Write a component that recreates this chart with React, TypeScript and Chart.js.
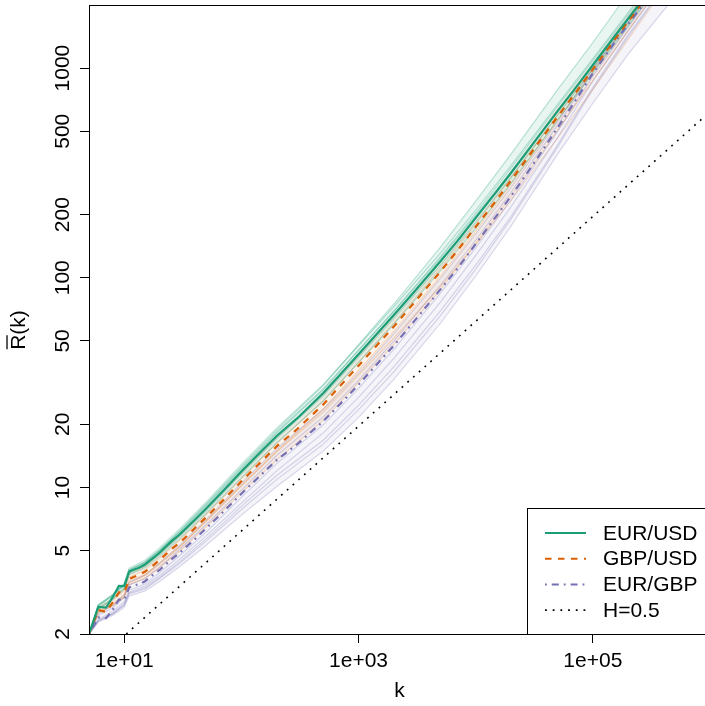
import React, { useEffect, useRef } from 'react';
import { Chart, registerables } from 'chart.js';

Chart.register(...registerables);

// ---------- data ----------
const K = [5, 6, 7, 8, 9, 10, 11, 12, 13, 14, 15, 16, 18, 20, 25, 30, 40, 50, 70, 100, 150, 200, 300, 500, 700, 1000, 1500, 2000, 3000, 5000, 7000, 10000, 15000, 20000, 30000, 50000, 70000, 100000, 150000, 200000, 300000, 500000];
const EUR_USD = [2.00, 2.69, 2.67, 3.01, 3.39, 3.38, 3.96, 4.05, 4.12, 4.20, 4.29, 4.42, 4.65, 4.88, 5.50, 6.00, 7.01, 7.94, 9.64, 11.9, 15.0, 17.6, 21.4, 28.2, 34.7, 43.2, 55.6, 66.4, 86.1, 120, 150, 193, 257, 316, 427, 624, 794, 1035, 1396, 1722, 2317, 3388];
const GBP_USD = [2.00, 2.60, 2.55, 2.84, 3.16, 3.15, 3.66, 3.74, 3.80, 3.88, 3.96, 4.08, 4.29, 4.50, 5.05, 5.47, 6.39, 7.21, 8.70, 10.7, 13.4, 15.7, 19.0, 24.9, 30.6, 38.1, 49.0, 58.5, 76.4, 107, 135, 175, 234, 291, 397, 587, 753, 988, 1346, 1672, 2264, 3327];
const EUR_GBP = [2.00, 2.40, 2.38, 2.62, 2.92, 2.91, 3.33, 3.41, 3.44, 3.49, 3.57, 3.68, 3.87, 4.04, 4.52, 4.90, 5.67, 6.38, 7.65, 9.34, 11.6, 13.5, 16.1, 20.7, 25.1, 30.9, 39.8, 47.5, 62.3, 88.0, 111, 145, 197, 245, 339, 519, 692, 944, 1302, 1619, 2187, 3222];

// thin individual curves around each main curve (first = upper edge, second = lower edge of the band)
const K_FAINT = [5, 6, 8, 10, 11, 15, 20, 30, 50, 100, 200, 500, 1000, 2000, 5000, 10000, 20000, 50000, 100000, 200000, 500000];
const EUR_USD_FAINT = [
  [2.00, 2.75, 3.08, 3.46, 4.05, 4.42, 5.03, 6.24, 8.34, 12.6, 18.8, 30.7, 48.0, 75.0, 140, 232, 389, 790, 1325, 2273, 4400],
  [2.00, 2.62, 2.92, 3.27, 3.83, 4.13, 4.68, 5.72, 7.50, 11.1, 16.3, 25.9, 39.4, 60.0, 108, 172, 282, 565, 945, 1590, 3160],
  [2.00, 2.72, 3.05, 3.42, 4.02, 4.36, 4.97, 6.13, 8.14, 12.2, 18.1, 29.2, 45.0, 69.5, 126, 203, 333, 656, 1085, 1800, 3530],
  [2.00, 2.66, 2.96, 3.32, 3.90, 4.22, 4.79, 5.87, 7.74, 11.6, 17.1, 27.4, 41.8, 64.0, 115, 184, 301, 596, 992, 1660, 3280],
  [2.00, 2.73, 3.06, 3.44, 4.04, 4.40, 5.03, 6.21, 8.26, 12.4, 18.4, 29.5, 45.2, 69.0, 124, 198, 320, 624, 1030, 1710, 3360],
  [2.00, 2.76, 3.10, 3.50, 4.12, 4.50, 5.15, 6.38, 8.50, 12.9, 19.2, 31.0, 47.5, 72.8, 131, 210, 343, 672, 1110, 1840, 3600],
];
const GBP_USD_FAINT = [
  [2.00, 2.68, 2.95, 3.31, 3.84, 4.20, 4.82, 5.91, 7.86, 11.8, 17.4, 27.9, 42.7, 65.5, 120, 194, 320, 634, 1047, 1756, 3460],
  [2.00, 2.52, 2.73, 2.99, 3.44, 3.68, 4.14, 4.98, 6.49, 9.42, 13.5, 20.9, 31.6, 48.0, 87.7, 145, 244, 505, 869, 1505, 3060],
  [2.00, 2.55, 2.75, 3.02, 3.51, 3.80, 4.30, 5.22, 6.89, 10.2, 14.9, 23.7, 36.2, 55.6, 102, 167, 279, 566, 958, 1630, 3260],
  [2.00, 2.63, 2.90, 3.21, 3.73, 4.04, 4.59, 5.63, 7.43, 11.0, 16.2, 25.9, 39.6, 60.8, 111, 180, 300, 599, 1008, 1705, 3360],
  [2.00, 2.57, 2.81, 3.09, 3.59, 3.84, 4.37, 5.25, 6.92, 10.2, 14.8, 22.9, 34.3, 51.5, 91.0, 144, 233, 464, 790, 1371, 2828],
];
const EUR_GBP_FAINT = [
  [2.00, 2.50, 2.75, 3.08, 3.53, 3.82, 4.36, 5.34, 7.02, 10.5, 15.3, 23.6, 35.2, 54.2, 99.4, 162, 270, 555, 991, 1684, 3319],
  [2.00, 2.28, 2.46, 2.68, 3.03, 3.21, 3.56, 4.21, 5.30, 7.38, 10.1, 14.9, 21.6, 32.8, 60.7, 102, 176, 389, 680, 1166, 2190],
  [2.00, 2.45, 2.67, 3.00, 3.43, 3.68, 4.16, 5.10, 6.64, 9.71, 14.2, 21.7, 32.4, 49.9, 92.4, 151, 255, 535, 963, 1651, 3254],
  [2.00, 2.33, 2.52, 2.79, 3.16, 3.39, 3.80, 4.56, 5.87, 8.41, 12.0, 18.2, 26.9, 41.3, 76.6, 128, 218, 467, 868, 1506, 3029],
  [2.00, 2.30, 2.49, 2.74, 3.10, 3.28, 3.68, 4.36, 5.55, 7.85, 10.9, 16.1, 23.5, 35.6, 66.0, 110, 191, 420, 793, 1409, 2868],
  [2.00, 2.35, 2.57, 2.85, 3.23, 3.46, 3.92, 4.75, 6.12, 8.97, 13.0, 19.9, 29.7, 45.6, 84.5, 139, 235, 498, 916, 1570, 3125],
  [2.00, 2.31, 2.50, 2.76, 3.13, 3.32, 3.72, 4.44, 5.68, 8.12, 11.4, 16.8, 24.7, 37.6, 69.5, 115, 196, 430, 810, 1440, 2900],
];

// reference line H = 0.5
const H_K = [10.4, 1000000];
const H_R = [2.0, 620];

const X_MIN = 5, X_MAX = 1000000, Y_MIN = 2, Y_MAX = 2000;
const X_TICKS = [10, 1000, 100000];
const X_TICK_LABELS = ['1e+01', '1e+03', '1e+05'];
const Y_TICKS = [2, 5, 10, 20, 50, 100, 200, 500, 1000];
const Y_TICK_LABELS = ['2', '5', '10', '20', '50', '100', '200', '500', '1000'];
const SERIES_NAMES = ['EUR/USD', 'GBP/USD', 'EUR/GBP', 'H=0.5'];
const X_TITLE = 'k';
const Y_TITLE_MAIN = 'R';
const Y_TITLE_REST = '(k)';

// ---------- styles ----------
const GREEN = '#1B9E77';
const ORANGE = '#D95F02';
const PURPLE = '#7570B3';
const GREEN_FAINT = 'rgba(27,158,119,0.3)';
const ORANGE_FAINT = 'rgba(217,95,2,0.22)';
const PURPLE_FAINT = 'rgba(117,112,179,0.28)';
const GREEN_BAND = 'rgba(27,158,119,0.10)';
const ORANGE_BAND = 'rgba(217,95,2,0.07)';
const PURPLE_BAND = 'rgba(117,112,179,0.08)';
const DASH_ORANGE = [6.5, 6.5];
const DASH_PURPLE = [1.8, 5, 7, 5];
const DASH_DOT = [1.8, 5.9];
const FONT = "'Liberation Sans', Arial, Helvetica, sans-serif";
const FONT_SIZE = 21;

const pts = (xs: number[], ys: number[]) => xs.map((x, i) => ({ x, y: ys[i] }));

const overlay = {
  id: 'overlay',
  afterDraw(chart: any) {
    const { ctx, chartArea: a, scales } = chart;
    ctx.save();
    ctx.setLineDash([]);
    ctx.strokeStyle = '#000';
    ctx.lineWidth = 1;
    ctx.strokeRect(Math.round(a.left) + 0.5, Math.round(a.top) + 0.5, Math.round(a.right - a.left), Math.round(a.bottom - a.top));

    ctx.fillStyle = '#000';
    ctx.font = `${FONT_SIZE}px ${FONT}`;
    ctx.textAlign = 'center';
    ctx.textBaseline = 'alphabetic';
    X_TICKS.forEach((v, i) => {
      const x = scales.x.getPixelForValue(v);
      ctx.fillText(X_TICK_LABELS[i], x, 667);
    });
    Y_TICKS.forEach((v, i) => {
      const y = scales.y.getPixelForValue(v);
      ctx.save();
      ctx.translate(68.5, y);
      ctx.rotate(-Math.PI / 2);
      ctx.textAlign = 'center';
      ctx.textBaseline = 'alphabetic';
      ctx.fillText(Y_TICK_LABELS[i], 0, 0);
      ctx.restore();
    });
    ctx.fillText(X_TITLE, (a.left + a.right) / 2, 697);
    ctx.save();
    ctx.translate(25, 330);
    ctx.rotate(-Math.PI / 2);
    const full = Y_TITLE_MAIN + Y_TITLE_REST;
    const w = ctx.measureText(full).width;
    const wr = ctx.measureText(Y_TITLE_MAIN).width;
    ctx.textAlign = 'left';
    ctx.fillText(full, -w / 2, 0);
    ctx.lineWidth = 1.3;
    ctx.beginPath();
    ctx.moveTo(-w / 2 + 0.5, -18);
    ctx.lineTo(-w / 2 + wr - 0.5, -18);
    ctx.stroke();
    ctx.restore();

    const lx = 527, ly = 508;
    const lw = a.right - lx, lh = a.bottom - ly;
    ctx.fillStyle = '#fff';
    ctx.fillRect(lx, ly, lw, lh);
    ctx.strokeStyle = '#000';
    ctx.lineWidth = 1;
    ctx.strokeRect(lx + 0.5, ly + 0.5, lw, lh);
    const items = [
      { color: GREEN, dash: [] as number[], width: 2 },
      { color: ORANGE, dash: DASH_ORANGE, width: 2 },
      { color: PURPLE, dash: DASH_PURPLE, width: 2 },
      { color: '#000', dash: DASH_DOT, width: 1.6 },
    ];
    items.forEach((it, i) => {
      const y = 533 + i * 25.7;
      ctx.strokeStyle = it.color;
      ctx.lineWidth = it.width;
      ctx.setLineDash(it.dash);
      ctx.beginPath();
      ctx.moveTo(545, y);
      ctx.lineTo(586, y);
      ctx.stroke();
      ctx.setLineDash([]);
      ctx.fillStyle = '#000';
      ctx.textAlign = 'left';
      ctx.textBaseline = 'middle';
      ctx.fillText(SERIES_NAMES[i], 603, y + 1);
    });
    ctx.restore();
  },
};

export default function App() {
  const ref = useRef<HTMLCanvasElement>(null);
  useEffect(() => {
    if (!ref.current) return;
    const base = { pointRadius: 0, fill: false, tension: 0, clip: 0 };
    const datasets: any[] = [
      { ...base, label: SERIES_NAMES[0], data: pts(K, EUR_USD), borderColor: GREEN, borderWidth: 2.2 },
      { ...base, label: SERIES_NAMES[1], data: pts(K, GBP_USD), borderColor: ORANGE, borderWidth: 2.2, borderDash: DASH_ORANGE },
      { ...base, label: SERIES_NAMES[2], data: pts(K, EUR_GBP), borderColor: PURPLE, borderWidth: 2.2, borderDash: DASH_PURPLE },
      { ...base, label: SERIES_NAMES[3], data: pts(H_K, H_R), borderColor: '#000', borderWidth: 1.6, borderDash: DASH_DOT },
    ];
    const addGroup = (group: number[][], line: string, band: string) => {
      const start = datasets.length;
      group.forEach((ys, j) => {
        const ds: any = { ...base, data: pts(K_FAINT, ys), borderColor: line, borderWidth: 1.1 };
        if (j === 0) {
          ds.fill = { target: start + 1 };
          ds.backgroundColor = band;
        }
        datasets.push(ds);
      });
    };
    addGroup(EUR_USD_FAINT, GREEN_FAINT, GREEN_BAND);
    addGroup(GBP_USD_FAINT, ORANGE_FAINT, ORANGE_BAND);
    addGroup(EUR_GBP_FAINT, PURPLE_FAINT, PURPLE_BAND);

    const gridOpts = { display: true, drawOnChartArea: false, drawTicks: true, tickLength: 9, color: '#000', lineWidth: 1 };
    const chart = new Chart(ref.current, {
      type: 'line',
      data: { datasets },
      plugins: [overlay],
      options: {
        responsive: false,
        animation: false,
        devicePixelRatio: 1,
        layout: { padding: { left: 0, top: 5, right: 10, bottom: 0 } },
        plugins: { legend: { display: false }, tooltip: { enabled: false }, filler: { propagate: false } },
        scales: {
          x: {
            type: 'logarithmic',
            min: X_MIN,
            max: X_MAX,
            afterBuildTicks: (s: any) => { s.ticks = X_TICKS.map((v) => ({ value: v })); },
            afterFit: (s: any) => { s.height = 72; s.paddingLeft = 0; s.paddingRight = 0; },
            ticks: { display: false },
            grid: gridOpts,
            border: { display: false },
          },
          y: {
            type: 'logarithmic',
            min: Y_MIN,
            max: Y_MAX,
            afterBuildTicks: (s: any) => { s.ticks = Y_TICKS.map((v) => ({ value: v })); },
            afterFit: (s: any) => { s.width = 89; s.paddingTop = 0; s.paddingBottom = 0; },
            ticks: { display: false },
            grid: gridOpts,
            border: { display: false },
          },
        },
      } as any,
    });
    return () => chart.destroy();
  }, []);

  return (
    <div style={{ position: 'fixed', left: 0, top: 0, width: 705, height: 706, overflow: 'hidden', background: '#fff' }}>
      <canvas ref={ref} width={720} height={706} style={{ display: 'block', width: 720, height: 706 }} />
    </div>
  );
}
